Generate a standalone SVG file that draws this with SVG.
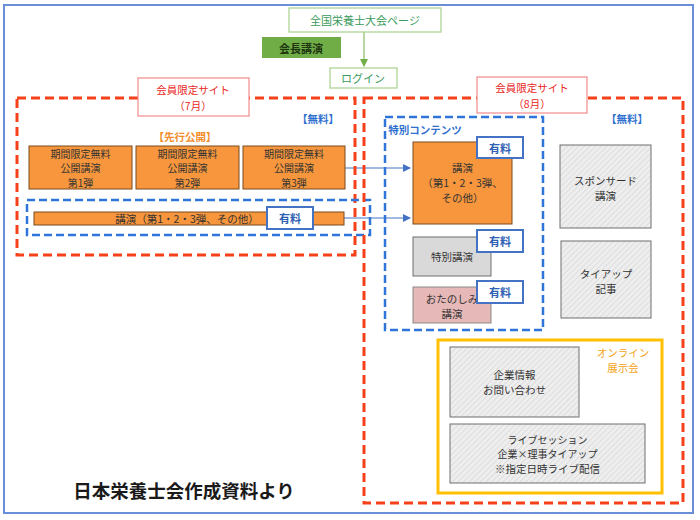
<svg xmlns="http://www.w3.org/2000/svg" width="700" height="520" viewBox="0 0 700 520">
<defs>
<pattern id="hatch" width="4" height="4" patternUnits="userSpaceOnUse" patternTransform="rotate(45)">
<rect width="4" height="4" fill="#EEEEEE"/>
<line x1="0" y1="0" x2="0" y2="4" stroke="#D2D2D2" stroke-width="1.2"/>
</pattern>
<marker id="arrG" markerWidth="8" markerHeight="8" refX="7" refY="4" orient="auto" markerUnits="userSpaceOnUse">
<path d="M0,0 L8,4 L0,8 z" fill="#70AD47"/>
</marker>
<marker id="arrB" markerWidth="8" markerHeight="8" refX="7" refY="4" orient="auto" markerUnits="userSpaceOnUse">
<path d="M0,0 L8,4 L0,8 z" fill="#4472C4"/>
</marker>
</defs>
<style>
text{font-family:"Noto Sans CJK JP","Noto Sans CJK SC",sans-serif;text-anchor:middle;dominant-baseline:central;}
.t{font-size:10px;fill:#333;}
.orange{fill:#F7963C;stroke:#7A4A1E;stroke-width:1;}
.gray{fill:#D9D9D9;stroke:#6F6F6F;stroke-width:1;}
.hatch{fill:url(#hatch);stroke:#6F6F6F;stroke-width:1;}
.pink{fill:#E6B9B8;stroke:#8A8A8A;stroke-width:1;}
.paid{fill:#fff;stroke:#4472C4;stroke-width:2;}
.paidt{font-size:11px;font-weight:bold;fill:#2F5FB3;}
.reddash{fill:none;stroke:#F5401A;stroke-width:3;stroke-dasharray:9,5;}
.bluedash{fill:none;stroke:#2F74D9;stroke-width:2.5;stroke-dasharray:8,4;}
.redlabel{fill:#fff;stroke:#F28A8A;stroke-width:1.2;}
.redt{font-size:10.5px;fill:#E8261B;}
.free{font-size:10.5px;font-weight:bold;fill:#2F6FCF;}
.conn{fill:none;stroke:#4472C4;stroke-width:1;}
.expo{font-size:10.5px;fill:#F5A623;}
</style>
<rect x="4" y="5" width="689" height="508" fill="#fff" stroke="#6A8FD8" stroke-width="2"/>

<g id="connectors">
<line x1="364" y1="32" x2="364" y2="66" stroke="#70AD47" stroke-width="1" marker-end="url(#arrG)"/>
<line class="conn" x1="345" y1="168" x2="410" y2="168" marker-end="url(#arrB)"/>
<line class="conn" x1="344" y1="218" x2="410" y2="218" marker-end="url(#arrB)"/>
</g>

<g id="top-page">
<rect x="289" y="8" width="152" height="24" fill="#fff" stroke="#A9D18E" stroke-width="1.2"/>
<text x="365" y="20" style="font-size:11px;fill:#3A9A5A">全国栄養士大会ページ</text>
</g>
<g id="president-lecture">
<rect x="262" y="37" width="79" height="21" fill="#70AD47"/>
<text x="301" y="47.5" style="font-size:11px;font-weight:bold;fill:#1E3510">会長講演</text>
</g>
<g id="login">
<rect x="330" y="68" width="67" height="20" fill="#fff" stroke="#A9D18E" stroke-width="1.2"/>
<text x="363" y="78" style="font-size:11px;fill:#3A9A5A">ログイン</text>
</g>

<g id="site-july">
<rect class="reddash" x="17" y="98" width="338" height="157"/>
<rect class="redlabel" x="138" y="78" width="111" height="38"/>
<text class="redt" x="193" y="89">会員限定サイト</text>
<text class="redt" x="193" y="105">（7月）</text>
<text class="free" x="318" y="118">【無料】</text>
<text x="185" y="136" style="font-size:10.5px;font-weight:bold;fill:#F28C28">【先行公開】</text>
</g>
<g id="free1">
<rect class="orange" x="29" y="146" width="103" height="43"/>
<text class="t" x="80.5" y="153">期間限定無料</text>
<text class="t" x="80.5" y="167.5">公開講演</text>
<text class="t" x="80.5" y="182">第1弾</text>
</g>
<g id="free2">
<rect class="orange" x="136" y="146" width="103" height="43"/>
<text class="t" x="187.5" y="153">期間限定無料</text>
<text class="t" x="187.5" y="167.5">公開講演</text>
<text class="t" x="187.5" y="182">第2弾</text>
</g>
<g id="free3">
<rect class="orange" x="243" y="146" width="102" height="43"/>
<text class="t" x="294" y="153">期間限定無料</text>
<text class="t" x="294" y="167.5">公開講演</text>
<text class="t" x="294" y="182">第3弾</text>
</g>
<g id="paid-july">
<rect class="bluedash" x="27" y="200" width="343" height="35"/>
<rect class="orange" x="34" y="212" width="310" height="13"/>
<text class="t" x="187" y="218.5" style="font-size:10.5px">講演（第1・2・3弾、その他）</text>
<rect class="paid" x="267" y="207" width="46" height="22"/>
<text class="paidt" x="290" y="218">有料</text>
</g>

<g id="site-august">
<rect class="reddash" x="364" y="98" width="319" height="405"/>
<rect class="redlabel" x="477" y="77" width="110" height="36"/>
<text class="redt" x="532" y="87.5">会員限定サイト</text>
<text class="redt" x="532" y="103">（8月）</text>
<text class="free" x="627" y="118">【無料】</text>
</g>
<g id="special-content">
<rect class="bluedash" x="385" y="117" width="158" height="213"/>
<text x="425" y="129" style="font-size:10.5px;font-weight:bold;fill:#2F6FCF">特別コンテンツ</text>
</g>
<g id="lecture-aug">
<rect class="orange" x="413" y="142" width="99" height="82"/>
<text class="t" x="462.5" y="167" style="font-size:10.5px">講演</text>
<text class="t" x="462.5" y="182" style="font-size:10.5px">（第1・2・3弾、</text>
<text class="t" x="462.5" y="197" style="font-size:10.5px">その他）</text>
<rect class="paid" x="477" y="137" width="46" height="21"/>
<text class="paidt" x="500" y="147.5">有料</text>
</g>
<g id="special-lecture">
<rect class="gray" x="413" y="237" width="78" height="39"/>
<text class="t" x="452" y="256.5" style="font-size:10.5px">特別講演</text>
<rect class="paid" x="477" y="230" width="46" height="22"/>
<text class="paidt" x="500" y="241">有料</text>
</g>
<g id="fun-lecture">
<rect class="pink" x="413" y="287" width="78" height="36"/>
<text class="t" x="452" y="298" style="font-size:10.5px">おたのしみ</text>
<text class="t" x="452" y="313" style="font-size:10.5px">講演</text>
<rect class="paid" x="477" y="281" width="46" height="22"/>
<text class="paidt" x="500" y="292">有料</text>
</g>
<g id="sponsored">
<rect class="hatch" x="560" y="145" width="91" height="83"/>
<text class="t" x="605.5" y="180" style="font-size:10.5px">スポンサード</text>
<text class="t" x="605.5" y="195" style="font-size:10.5px">講演</text>
</g>
<g id="tieup">
<rect class="hatch" x="561" y="241" width="90" height="77"/>
<text class="t" x="606" y="273" style="font-size:10.5px">タイアップ</text>
<text class="t" x="606" y="288" style="font-size:10.5px">記事</text>
</g>

<g id="online-expo">
<rect x="438" y="340" width="224" height="153" fill="none" stroke="#FFC000" stroke-width="3"/>
<text class="expo" x="623" y="352">オンライン</text>
<text class="expo" x="623" y="367">展示会</text>
</g>
<g id="company-info">
<rect class="hatch" x="450" y="347" width="129" height="70"/>
<text class="t" x="514.5" y="374" style="font-size:10.5px">企業情報</text>
<text class="t" x="514.5" y="389" style="font-size:10.5px">お問い合わせ</text>
</g>
<g id="live-session">
<rect class="hatch" x="450" y="424" width="195" height="59"/>
<text class="t" x="547.5" y="439">ライブセッション</text>
<text class="t" x="547.5" y="453.5">企業×理事タイアップ</text>
<text class="t" x="547.5" y="468" style="font-size:10.5px">※指定日時ライブ配信</text>
</g>

<g id="credit">
<text x="184" y="490" style="font-size:18.5px;font-weight:bold;fill:#1A1A1A">日本栄養士会作成資料より</text>
</g>
</svg>
